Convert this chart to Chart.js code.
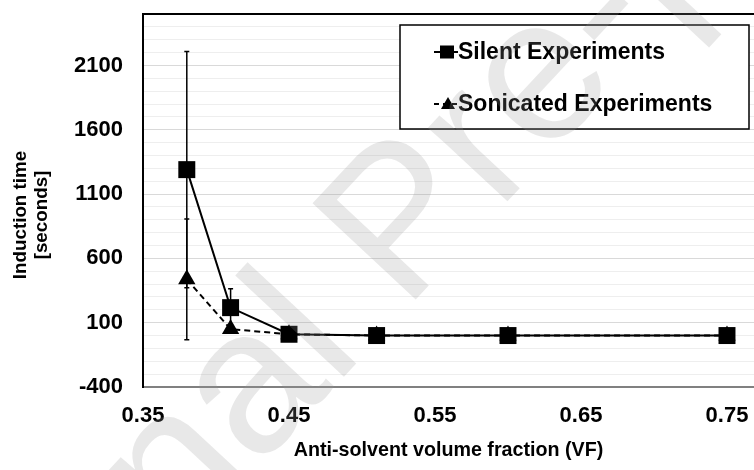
<!DOCTYPE html>
<html><head><meta charset="utf-8">
<script src="https://cdn.jsdelivr.net/npm/chart.js@4/dist/chart.umd.min.js"></script>
<style>html,body{margin:0;padding:0;background:#fff}#wrap{width:754px;height:470px}</style>
</head><body><div id="wrap"><canvas id="c" width="754" height="470"></canvas></div>
<script>
const volumeFraction = [0.38, 0.41, 0.45, 0.51, 0.60, 0.75];
const silentTime = [1290, 217, 10, 0, 0, 0];
const silentError = [919, 147, 0, 0, 0, 0];
const sonicatedTime = [437, 50, 10, 0, 0, 0];
const sonicatedError = [470, 0, 0, 0, 0, 0];
const seriesNames = ['Silent Experiments', 'Sonicated Experiments'];
const xTickValues = [0.35, 0.45, 0.55, 0.65, 0.75];
const yTickValues = [-400, 100, 600, 1100, 1600, 2100];
const yMinorTicks = [-400,-300,-200,-100,0,100,200,300,400,500,600,700,800,900,1000,1100,1200,1300,1400,1500,1600,1700,1800,1900,2000,2100,2200,2300,2400,2500];
const xTitle = 'Anti-solvent volume fraction (VF)';
const yTitle = ['Induction time', '[seconds]'];
const watermarkText = 'Journal Pre-proof';

const FONT = "'Liberation Sans', Arial, Helvetica, sans-serif";

const errorBarPlugin = {
  id: 'errorBars',
  beforeDatasetsDraw(chart) {
    const {ctx, scales: {x, y}} = chart;
    ctx.save();
    ctx.strokeStyle = '#000';
    ctx.lineWidth = 1.5;
    chart.data.datasets.forEach(ds => {
      ds.data.forEach((p, i) => {
        const e = ds.errors[i];
        if (!e) return;
        const px = x.getPixelForValue(p.x);
        const yt = y.getPixelForValue(p.y + e);
        const yb = y.getPixelForValue(p.y - e);
        ctx.beginPath();
        ctx.moveTo(px, yt); ctx.lineTo(px, yb);
        ctx.moveTo(px - 2.5, yt); ctx.lineTo(px + 2.5, yt);
        ctx.moveTo(px - 2.5, yb); ctx.lineTo(px + 2.5, yb);
        ctx.stroke();
      });
    });
    ctx.restore();
  }
};

const framePlugin = {
  id: 'frame',
  afterDatasetsDraw(chart) {
    const {ctx, chartArea: a} = chart;
    ctx.save();
    ctx.strokeStyle = '#000';
    ctx.lineWidth = 2;
    ctx.beginPath();
    ctx.moveTo(a.left - 1, a.top);
    ctx.lineTo(a.right, a.top);
    ctx.stroke();
    ctx.restore();
  }
};

const legendTitlePlugin = {
  id: 'legendAndTitle',
  afterDraw(chart) {
    const {ctx, chartArea: a} = chart;
    ctx.save();
    ctx.fillStyle = '#000';
    ctx.font = 'bold 18.8px ' + FONT;
    ctx.textAlign = 'center';
    ctx.textBaseline = 'middle';
    ctx.translate(21, 215);
    ctx.rotate(-Math.PI / 2);
    ctx.fillText(yTitle[0], 0, 0);
    ctx.fillText(yTitle[1], 0, 21);
    ctx.restore();

    ctx.save();
    const bx = a.right - 354, by = a.top + 11, bw = 349, bh = 104;
    ctx.fillStyle = '#fff';
    ctx.fillRect(bx, by, bw, bh);
    ctx.strokeStyle = '#000';
    ctx.lineWidth = 1.5;
    ctx.strokeRect(bx, by, bw, bh);
    const rows = [by + 27, by + 79];
    const mx = bx + 47;
    ctx.lineWidth = 2;
    ctx.beginPath(); ctx.moveTo(bx + 34, rows[0]); ctx.lineTo(bx + 58, rows[0]); ctx.stroke();
    ctx.fillStyle = '#000';
    ctx.fillRect(mx - 7, rows[0] - 6.5, 14, 13);
    ctx.setLineDash([5, 4]);
    ctx.beginPath(); ctx.moveTo(bx + 34, rows[1]); ctx.lineTo(bx + 58, rows[1]); ctx.stroke();
    ctx.setLineDash([]);
    ctx.beginPath();
    ctx.moveTo(mx + 1, rows[1] - 7); ctx.lineTo(mx + 8, rows[1] + 5); ctx.lineTo(mx - 6, rows[1] + 5); ctx.closePath();
    ctx.fill();
    ctx.font = 'bold 23px ' + FONT;
    ctx.textAlign = 'left';
    ctx.textBaseline = 'middle';
    ctx.fillText(chart.data.datasets[0].label, bx + 58, rows[0] + 1);
    ctx.fillText(chart.data.datasets[1].label, bx + 58, rows[1] + 1);
    ctx.restore();

    ctx.save();
    ctx.font = '205px ' + FONT;
    ctx.fillStyle = 'rgba(150,150,150,0.22)';
    const th = -47 * Math.PI / 180;
    const along = ctx.measureText('Journa').width + ctx.measureText('l').width / 2;
    const ox = 350 - along * Math.cos(th), oy = 370 - along * Math.sin(th);
    ctx.translate(ox, oy);
    ctx.rotate(th);
    ctx.textAlign = 'left';
    ctx.textBaseline = 'alphabetic';
    ctx.fillText(watermarkText, 0, 0);
    ctx.restore();
  }
};

new Chart(document.getElementById('c'), {
  type: 'line',
  data: {
    datasets: [
      {
        label: seriesNames[0],
        data: volumeFraction.map((v, i) => ({x: v, y: silentTime[i]})),
        errors: silentError,
        borderColor: '#000', backgroundColor: '#000', borderWidth: 2,
        pointStyle: 'rect', pointRadius: 12, pointBorderWidth: 0, pointHoverRadius: 12,
        tension: 0
      },
      {
        label: seriesNames[1],
        data: volumeFraction.map((v, i) => ({x: v, y: sonicatedTime[i]})),
        errors: sonicatedError,
        borderColor: '#000', backgroundColor: '#000', borderWidth: 2, borderDash: [6, 4],
        pointStyle: 'triangle', pointRadius: 10, pointBorderWidth: 0, pointHoverRadius: 10,
        tension: 0
      }
    ]
  },
  options: {
    responsive: false, animation: false, devicePixelRatio: 1,
    layout: {autoPadding: false, padding: {top: 14, right: 0, left: 0, bottom: 0}},
    plugins: {legend: {display: false}, tooltip: {enabled: false}},
    scales: {
      x: {
        type: 'linear', min: 0.35, max: 0.7685,
        afterBuildTicks: s => { s.ticks = xTickValues.map(v => ({value: v})); },
        ticks: {callback: v => v.toFixed(2), font: {family: FONT, size: 22, weight: 'bold'}, color: '#000', padding: 16, autoSkip: false, maxRotation: 0},
        grid: {display: false, drawTicks: false},
        border: {color: '#808080', width: 2},
        title: {display: true, text: xTitle, font: {family: FONT, size: 19.7, weight: 'bold'}, color: '#000', padding: {top: 0, bottom: 8}},
        afterFit: s => { s.height = 83; s.paddingLeft = 0; s.paddingRight = 0; }
      },
      y: {
        min: -400, max: 2500,
        afterBuildTicks: s => { s.ticks = yMinorTicks.map(v => ({value: v})); },
        ticks: {callback: v => yTickValues.includes(v) ? String(v) : '', font: {family: FONT, size: 22, weight: 'bold'}, color: '#000', padding: 20, autoSkip: false},
        grid: {drawTicks: false, lineWidth: 1, color: c => (c.tick && yTickValues.includes(c.tick.value)) ? '#d9d9d9' : '#eeeeee'},
        border: {color: '#000', width: 2},
        afterFit: s => { s.width = 143; s.paddingTop = 0; s.paddingBottom = 0; }
      }
    }
  },
  plugins: [errorBarPlugin, framePlugin, legendTitlePlugin]
});
</script>
</body></html>
